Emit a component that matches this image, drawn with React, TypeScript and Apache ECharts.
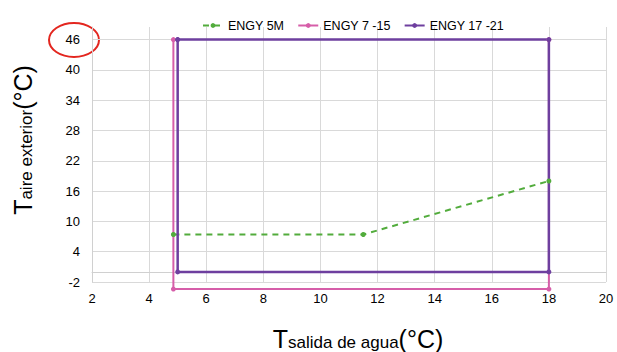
import React, { useEffect, useRef } from "react";
import * as echarts from "echarts";

// ---- data ----
const seriesNames = ["ENGY 5M", "ENGY 7 -15", "ENGY 17 -21"];
const engy5mX = [4.85, 11.5, 18];
const engy5mY = [7.4, 7.4, 18];
const engy715X = [4.85, 4.85, 18, 18];
const engy715Y = [46, -3.4, -3.4, 46];
const engy1721X = [5, 18, 18, 5, 5];
const engy1721Y = [46, 46, 0, 0, 46];
const xMin = 2;
const xMax = 20;
const xStep = 2;
const yMin = -2;
const yMax = 48.5;
const yStep = 6;
const xTitleSub = "salida de agua";
const yTitleSub = "aire exterior";

const FONT = "'Liberation Sans', Arial, sans-serif";
const colors = ["#52ac3c", "#d65ea9", "#6e3f9f"];

const pairs = (xs: number[], ys: number[]) => xs.map((x, i) => [x, ys[i]]);

export default function App() {
  const ref = useRef<HTMLDivElement>(null);
  useEffect(() => {
    if (!ref.current) return;
    const chart = echarts.init(ref.current, undefined, { renderer: "svg" });
    const rich = {
      t: { fontSize: 25, lineHeight: 30, verticalAlign: "bottom", fontFamily: FONT, fill: "#000" },
      s: { fontSize: 17, lineHeight: 15, verticalAlign: "bottom", fontFamily: FONT, fill: "#000" },
    };
    chart.setOption({
      animation: false,
      backgroundColor: "#fff",
      color: colors,
      grid: { left: 92, right: 11, top: 27, bottom: 70, containLabel: false },
      legend: {
        data: seriesNames,
        top: 14,
        left: 197,
        itemWidth: 20,
        itemHeight: 6,
        itemGap: 13,
        textStyle: { fontFamily: FONT, fontSize: 12.5, color: "#000" },
      },
      xAxis: {
        type: "value",
        min: xMin,
        max: xMax,
        interval: xStep,
        axisLine: { show: true, lineStyle: { color: "#d0d0d0" } },
        axisTick: { show: false },
        axisLabel: { fontFamily: FONT, fontSize: 13, color: "#000", margin: 10 },
        splitLine: { show: true, lineStyle: { color: "#d9d9d9", width: 1 } },
      },
      yAxis: {
        type: "value",
        min: yMin,
        max: yMax,
        interval: yStep,
        axisLine: { show: true, lineStyle: { color: "#d0d0d0" } },
        axisTick: { show: false },
        axisLabel: {
          fontFamily: FONT,
          fontSize: 13,
          color: "#000",
          margin: 12,
          showMaxLabel: false,
          formatter: (v: number) => (v === yMax ? "" : String(v)),
        },
        splitLine: { show: true, showMaxLine: false, lineStyle: { color: "#d9d9d9", width: 1 } },
      },
      series: [
        {
          name: seriesNames[0],
          type: "line",
          data: pairs(engy5mX, engy5mY),
          symbol: "circle",
          symbolSize: 5,
          clip: false,
          lineStyle: { type: [6, 5], width: 2, color: colors[0] },
          itemStyle: { color: colors[0] },
        },
        {
          name: seriesNames[1],
          type: "line",
          data: pairs(engy715X, engy715Y),
          symbol: "circle",
          symbolSize: 5,
          clip: false,
          lineStyle: { width: 2, color: colors[1] },
          itemStyle: { color: colors[1] },
        },
        {
          name: seriesNames[2],
          type: "line",
          data: pairs(engy1721X, engy1721Y),
          symbol: "circle",
          symbolSize: 5,
          clip: false,
          lineStyle: { width: 2.5, color: colors[2] },
          itemStyle: { color: colors[2] },
        },
      ],
      graphic: [
        {
          type: "ellipse",
          shape: { cx: 74, cy: 40, rx: 25, ry: 17 },
          style: { fill: "none", stroke: "#e3261f", lineWidth: 2 },
        },
        {
          type: "text",
          x: 358,
          y: 336,
          style: {
            text: "{t|T}{s|" + xTitleSub + "}{t|(°C)}",
            rich,
            align: "center",
            verticalAlign: "middle",
          },
        },
        {
          type: "text",
          x: 20,
          y: 140,
          rotation: Math.PI / 2,
          style: {
            text: "{t|T}{s|" + yTitleSub + "}{t|(°C)}",
            rich,
            align: "center",
            verticalAlign: "middle",
          },
        },
      ],
    });
    return () => chart.dispose();
  }, []);
  return (
    <div
      ref={ref}
      style={{ position: "fixed", left: 0, top: 0, width: 617, height: 352 }}
    />
  );
}
